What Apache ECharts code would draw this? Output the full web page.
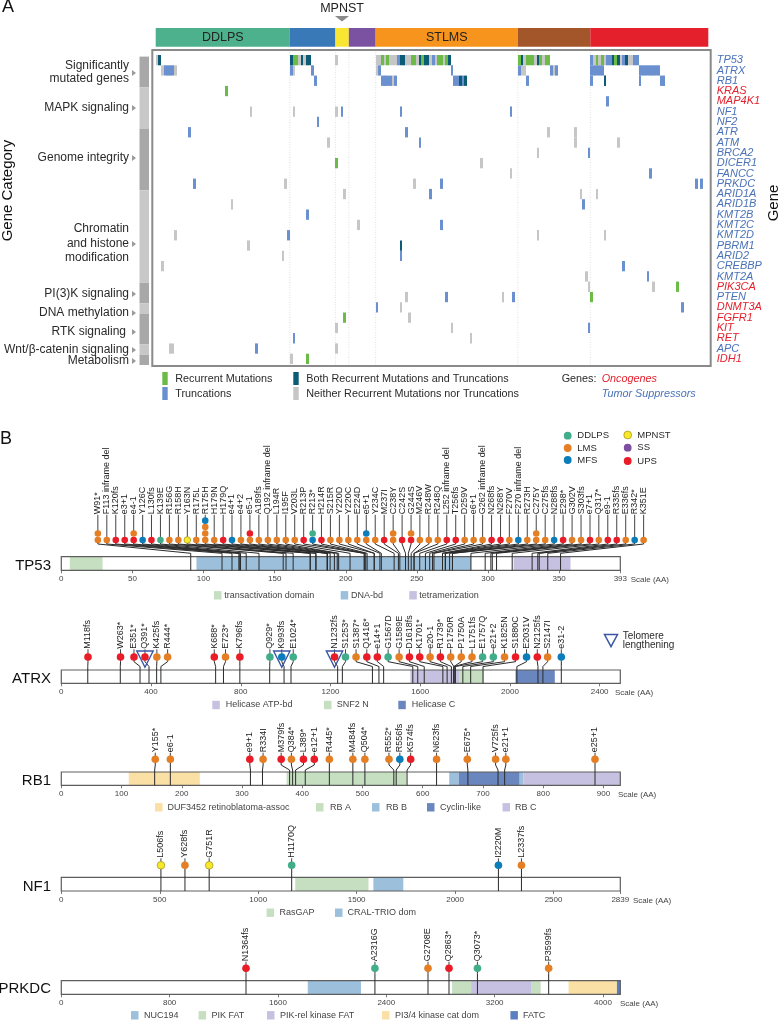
<!DOCTYPE html>
<html><head><meta charset="utf-8">
<style>html,body{margin:0;padding:0;background:#fff}#c{width:779px;height:1020px}</style>
<script src="https://cdn.jsdelivr.net/npm/echarts@6/dist/echarts.min.js"></script>
</head><body><div id="c"></div>
<script>
const FONT='"Liberation Sans", Arial, sans-serif';
// ---------- Panel A data ----------
const genes=['TP53','ATRX','RB1','KRAS','MAP4K1','NF1','NF2','ATR','ATM','BRCA2','DICER1','FANCC','PRKDC','ARID1A','ARID1B','KMT2B','KMT2C','KMT2D','PBRM1','ARID2','CREBBP','KMT2A','PIK3CA','PTEN','DNMT3A','FGFR1','KIT','RET','APC','IDH1'];
const oncogenes=['KRAS','MAP4K1','PIK3CA','DNMT3A','FGFR1','KIT','RET','IDH1'];
const histNames=['DDLPS','MFS','MPNST','SS','STLMS','ULMS','UPS'];
const histSizes=[50,17,5,10,53,27,44];
const histColors=['#4cb18c','#3a79b8','#f8e632','#7b52a1','#f7941d','#a3562a','#e4202c'];
const histLabels=['DDLPS','','','','STLMS','',''];
const categoryRows=[[0,3],[3,7],[7,13],[13,22],[22,24],[24,25],[25,28],[28,29],[29,30]];
const recurrentCells=[['TP53',[51,52,84,86,95,96,99,105,106,108,135,138,139,140,143,145,146,164,166,171]],['KRAS',[26]],['DICER1',[67]],['PIK3CA',[194]],['PTEN',[162]],['FGFR1',[70]],['IDH1',[56]]];
const bothCells=[['TP53',[1,50,54,56,57,91,92,98,100,101,109,136,142,170,172,175]],['RB1',[113,115,167]],['PBRM1',[91]]];
const truncCells=[['TP53',[90,103,162,168,169,174,178,179]],['ATRX',[3,4,5,6,50,58,83,110,135,147,149,162,163,164,165,166,180,181,182,183,184,185,186,187]],['RB1',[59,84,85,86,87,89,111,112,114,138,162,180,188,189]],['MAP4K1',[168]],['NF1',[69,91,132]],['NF2',[60]],['ATR',[12,93]],['ATM',[98]],['BRCA2',[161]],['FANCC',[184]],['PRKDC',[14,106,201,203]],['ARID1A',[102]],['ARID1B',[159]],['KMT2B',[56]],['KMT2C',[106]],['KMT2D',[49]],['ARID2',[91]],['CREBBP',[174]],['KMT2A',[183]],['PTEN',[108,133]],['DNMT3A',[82,196]],['KIT',[161]],['RET',[51]],['APC',[37]]];
const neitherCells=[['TP53',[0,53,55,67,82,83,85,87,88,89,93,94,97,102,104,107,137,141,144,163,165,167,173,176,177]],['ATRX',[2,7,51,82,136,137,148]],['RB1',[88]],['NF1',[35,51,67]],['ATR',[146,156]],['ATM',[64,156,172]],['BRCA2',[142]],['DICER1',[121]],['FANCC',[132]],['PRKDC',[48,96]],['ARID1A',[70,158,164]],['ARID1B',[28]],['KMT2C',[75]],['KMT2D',[7,142,167]],['PBRM1',[34]],['ARID2',[47]],['CREBBP',[2]],['KMT2A',[160]],['PIK3CA',[161,185]],['PTEN',[93,129]],['DNMT3A',[91]],['FGFR1',[94]],['KIT',[67,110]],['RET',[117]],['APC',[5,6,67]],['IDH1',[50]]];
// ---------- Panel B data ----------
const codeColor={G:'#41ad8b',L:'#e57f25',M:'#0c7dbb',Y:'#f8e82c',S:'#7d4fa0',U:'#ea1c27'};
const TP53_labels=['W91*','F113 inframe del','K120fs','e3+1','e4-1','Y126C','L130fs','K139E','R156G','R158H','Y163N','R175L','R175H','H179N','H179Q','e4+1','e4+2','e5-1','A189fs','Q192 inframe del','L194R','I195F','V203L','R213P','R213*','H214R','S215R','Y220D','Y220C','E224D','e5+1','Y234C','M237I','C238Y','C242S','G244S','M246V','R248W','R248Q','L252 inframe del','T256fs','D259V','e6+1','G262 inframe del','N268fs','N268Y','F270V','F270 inframe del','R273H','C275Y','C275fs','N288fs','E298*','G302V','S303fs','e7+1','Q317*','e9-1','R335fs','E336fs','R342*','K351E'];
const TP53_pos=[91,113,120,125,125,126,130,139,156,158,163,175,175,179,179,187,187,187,189,192,194,195,203,213,213,214,215,220,220,224,225,234,237,238,242,244,246,248,248,252,256,259,261,262,268,268,270,270,273,275,275,288,298,302,303,306,317,331,335,336,342,351];
const TP53_head=[25.7,32,38.3,44.6,50.9,57.2,63.4,69.7,76,82.3,88.6,94.9,101.2,107.5,113.8,120,126.3,132.6,138.9,145.2,151.5,157.8,164.1,170.4,176.7,182.9,189.2,195.5,201.8,208.1,214.4,220.7,227,233.3,239.6,245.9,252.1,258.4,264.7,271,277.3,283.6,289.9,296.2,302.5,308.8,315,321.3,327.6,333.9,340.2,346.5,352.8,359.1,365.4,371.7,377.9,384.2,390.5,396.8,403.1,409.4];
const TP53_stacks=['LL','L','U','U','UL','M','U','G','L','L','Y','L','LLLM','L','U','M','L','LU','L','L','L','L','L','U','MG','U','L','L','L','L','LM','L','U','LL','U','UL','L','L','L','U','U','L','L','L','U','U','L','M','L','LL','L','M','U','L','L','U','L','U','U','L','M','L'];
const TP53_ticks=[0,50,100,150,200,250,300,350,393];
const TP53_domains=[['transactivation domain',6,29,'#c6dfc1'],['DNA-bd',95,288,'#9cc0dc'],['tetramerization',318,358,'#c6c1e0']];
const ATRX_labels=['M118fs','W263*','E351*','Q391*','K425fs','R444*','K688*','E723*','K796fs','Q929*','K993fs','E1024*','N1232fs','S1253*','S1387*','Q1416*','e14+1','G1567D','G1589E','D1618fs','K1701*','e20-1','R1739*','P1750R','P1750A','L1751fs','E1757Q','e21+2','K1825N','S1880C','E2031V','N2125fs','S2147I','e31-2'];
const ATRX_pos=[118,263,351,391,425,444,688,723,796,929,993,1024,1232,1253,1387,1416,1437,1567,1589,1618,1701,1720,1739,1750,1750,1751,1757,1790,1825,1880,2031,2125,2147,2229];
const ATRX_head=[119,264,324,373,426,474,682,732,796,930,983,1034,1218,1267,1314,1362,1409,1457,1506,1552,1598,1644,1690,1736,1783,1831,1878,1926,1976,2025,2074,2122,2168,2229];
const ATRX_stacks=['U','U','U','U','L','L','U','L','U','G','M','G','U','G','L','U','U','G','L','U','U','L','U','L','L','L','G','G','L','U','M','U','L','M'];
const ATRX_ticks=[0,400,800,1200,1600,2000,2400];
const ATRX_domains=[['Helicase ATP-bd',1556,1773,'#c6c1e0'],['SNF2 N',1773,1883,'#c6dfc1'],['Helicase C',2025,2200,'#6a86bf']];
const ATRX_telomere=['Q391*','K993fs','N1232fs'];
const RB1_labels=['Y155*','e6-1','e9+1','R334I','M379fs','Q384*','L389*','e12+1','R445*','M484fs','Q504*','R552*','R556fs','K574fs','N623fs','E675*','V725fs','e21+1','e25+1'];
const RB1_pos=[155,181,314,334,379,384,389,405,445,484,504,552,556,574,623,675,725,736,886];
const RB1_head=[156,181,313,335,365,382,402,420,445,484,504,544,562,580,623,674,721,738,886];
const RB1_stacks=['L','L','U','L','U','L','U','U','L','L','L','L','M','U','L','L','L','L','L'];
const RB1_ticks=[0,100,200,300,400,500,600,700,800,900];
const RB1_domains=[['DUF3452 retinoblatoma-assoc',112,230,'#fbe0a5'],['RB A',374,573,'#c6dfc1'],['RB B',644,660,'#9cc0dc'],['Cyclin-like',660,761,'#6a86bf'],['RB B',761,767,'#9cc0dc'],['RB C',767,928,'#c6c1e0']];
const NF1_labels=['L506fs','Y628fs','G751R','H1170Q','I2220M','L2337fs'];
const NF1_pos=[506,628,751,1170,2220,2337];
const NF1_head=[506,628,751,1170,2220,2337];
const NF1_stacks=['Y','L','Y','G','M','L'];
const NF1_ticks=[0,500,1000,1500,2000,2500,2839];
const NF1_domains=[['RasGAP',1188,1560,'#c6dfc1'],['CRAL-TRIO dom',1585,1737,'#9cc0dc']];
const PRKDC_labels=['N1364fs','A2316G','G2708E','Q2863*','Q3073*','P3599fs'];
const PRKDC_pos=[1364,2316,2708,2863,3073,3599];
const PRKDC_head=[1364,2316,2708,2863,3073,3599];
const PRKDC_stacks=['U','G','L','U','G','L'];
const PRKDC_ticks=[0,800,1600,2400,3200,4000];
const PRKDC_domains=[['NUC194',1820,2213,'#9cc0dc'],['PIK FAT',2886,3026,'#c6dfc1'],['PIK-rel kinase FAT',3026,3474,'#c6c1e0'],['PIK FAT',3474,3540,'#c6dfc1'],['PI3/4 kinase cat dom',3746,4103,'#fbe0a5'],['FATC',4103,4128,'#5a7fc0']];

// ---------- layout helpers ----------
const grids=[],xAxes=[],yAxes=[],series=[],gfx=[];
const hiddenX=(min,max,g)=>({type:'value',min,max,show:false,gridIndex:g});
const hiddenY=(min,max,g,inv)=>({type:'value',min,max,show:false,gridIndex:g,inverse:!!inv});
function txt(x,y,text,o){o=o||{};
  const al=o.align||'left';
  gfx.push({type:'text',x,y,rotation:o.rot||0,silent:true,z:50,style:{text,fill:o.color||'#222',
    font:(o.italic?'italic ':'')+(o.size||11)+'px '+FONT,align:al,textAlign:al,verticalAlign:'middle',textVerticalAlign:'middle'}});
}
function rectG(x,y,w,h,fill,stroke,lw){gfx.push({type:'rect',silent:true,z:40,shape:{x,y,width:w,height:h},style:{fill:fill||'transparent',stroke:stroke||null,lineWidth:lw||0}});}
function triG(points,fill,stroke,lw){gfx.push({type:'polygon',silent:true,z:40,shape:{points},style:{fill:fill||'transparent',stroke:stroke||null,lineWidth:lw||0}});}

// ---------- Panel A: oncoprint ----------
grids.push({left:155.7,top:55,width:552.6,height:309});
xAxes.push(hiddenX(0,206,0));
yAxes.push({type:'category',data:genes,inverse:true,position:'right',gridIndex:0,
  axisLine:{show:false},axisTick:{show:false},splitLine:{show:false},
  axisLabel:{interval:0,margin:8.4,padding:[2,0,0,0],fontSize:11,fontStyle:'italic',fontFamily:FONT,
    color:v=>oncogenes.includes(v)?'#e4212d':'#4a72b8'}});
const boundaries=[];let acc=0;histSizes.slice(0,-1).forEach(s=>{acc+=s;boundaries.push(acc);});
series.push({type:'custom',xAxisIndex:0,yAxisIndex:0,silent:true,z:1,data:boundaries.map(b=>[b,0]),encode:{x:0},
  renderItem:(p,api)=>{const x=api.coord([api.value(0),0])[0];const c=p.coordSys;
    return {type:'line',shape:{x1:x,y1:c.y-3,x2:x,y2:c.y+c.height+1},style:{stroke:'#d4d4d4',lineWidth:.7,lineDash:[1,1.5]}};}});
function cellSeries(cells,color){
  const data=[];cells.forEach(([g,list])=>list.forEach(s=>data.push([s,genes.indexOf(g)])));
  series.push({type:'custom',xAxisIndex:0,yAxisIndex:0,silent:true,z:2,data,encode:{x:0,y:1},
    renderItem:(p,api)=>{const a=api.coord([api.value(0),api.value(1)]),b=api.coord([api.value(0)+1,api.value(1)]);const h=api.size([0,1])[1];
      const x0=Math.round(a[0]),x1=Math.round(b[0]);
      return {type:'rect',shape:{x:x0,y:a[1]-h/2,width:x1-x0,height:h},style:{fill:color}};}});
}
cellSeries(neitherCells,'#c6c6c6');
cellSeries(truncCells,'#6a90d0');
cellSeries(recurrentCells,'#6cbb47');
cellSeries(bothCells,'#0d5c75');
// colour bar
grids.push({left:155.7,top:28,width:552.6,height:18.7});
xAxes.push(hiddenX(0,206,1));yAxes.push(hiddenY(0,1,1));
let st=0;const histData=histSizes.map((s,i)=>{const r=[st,st+s,i];st+=s;return r;});
series.push({type:'custom',xAxisIndex:1,yAxisIndex:1,silent:true,data:histData,encode:{x:[0,1]},
  renderItem:(p,api)=>{const a=api.coord([api.value(0),1]),b=api.coord([api.value(1),0]);const i=api.value(2);
    const kids=[{type:'rect',shape:{x:a[0],y:a[1],width:b[0]-a[0],height:b[1]-a[1]},style:{fill:histColors[i]}}];
    if(histLabels[i])kids.push({type:'text',x:(a[0]+b[0])/2,y:(a[1]+b[1])/2,style:{text:histLabels[i],fill:'#222',font:'12.5px '+FONT,align:'center',textAlign:'center',verticalAlign:'middle',textVerticalAlign:'middle'}});
    return {type:'group',children:kids};}});
// category band
grids.push({left:139.5,top:56.6,width:9.5,height:308.4});
xAxes.push(hiddenX(0,1,2));yAxes.push(hiddenY(0,30,2,true));
series.push({type:'custom',xAxisIndex:2,yAxisIndex:2,silent:true,data:categoryRows.map((r,i)=>[0,r[0],r[1],i]),encode:{y:[1,2]},
  renderItem:(p,api)=>{const a=api.coord([0,api.value(1)]),b=api.coord([1,api.value(2)]);
    return {type:'rect',shape:{x:a[0],y:a[1],width:b[0]-a[0],height:b[1]-a[1]},style:{fill:api.value(3)%2?'#c8c8c8':'#a8a8a8'}};}});
rectG(152.3,50,558.4,316,null,'#8a8a8a',2);
txt(342,9,'MPNST',{align:'center',size:12.5});
triG([[335,16],[349,16],[342,21.5]],'#8a8a8a');
txt(2,7,'A',{size:18,color:'#111'});
txt(0,439,'B',{size:18,color:'#111'});
txt(8,190.5,'Gene Category',{size:15,rot:Math.PI/2,align:'center',color:'#111'});
txt(774,203,'Gene',{size:15,rot:Math.PI/2,align:'center',color:'#111'});
[[66,'Significantly'],[79,'mutated genes'],[107.7,'MAPK signaling'],[158,'Genome integrity'],[229,'Chromatin'],[244,'and histone'],[258,'modification'],[294,'PI(3)K signaling'],[313,'DNA methylation'],[349.7,'Wnt/β-catenin signaling'],[360.7,'Metabolism']]
 .forEach(([y,t])=>txt(129,y,t,{align:'right',size:12,color:'#2a2a2a'}));
txt(126,332,'RTK signaling',{align:'right',size:12,color:'#2a2a2a'});
[73,108,158,244,294,313,332,350,361].forEach(y=>triG([[132,y-3],[136,y],[132,y+3]],'#9a9a9a'));
[[162.3,372,'#6cbb47','Recurrent Mutations'],[162.3,387,'#6a90d0','Truncations'],[293.3,372,'#0d5c75','Both Recurrent Mutations and Truncations'],[293.3,387,'#c6c6c6','Neither Recurrent Mutations nor Truncations']]
 .forEach(([x,y,c,t])=>{rectG(x,y,5.4,13,c);txt(x+13,y+7,t,{size:10.8,color:'#2a2a2a'});});
txt(561.7,379,'Genes:',{size:10.8,color:'#2a2a2a'});
txt(601.7,379,'Oncogenes',{size:10.8,italic:true,color:'#e4212d'});
txt(601.7,394,'Tumor Suppressors',{size:10.8,italic:true,color:'#4a72b8'});

// ---------- Panel B: lollipops ----------
function panel(cfg){
  const g=grids.length;
  grids.push({left:61.3,top:cfg.barTop,width:559,height:cfg.barBottom-cfg.barTop});
  xAxes.push({type:'value',gridIndex:g,min:0,max:cfg.len,position:'bottom',
    axisLine:{show:false},splitLine:{show:false},
    axisTick:{show:true,length:3,customValues:cfg.ticks,lineStyle:{color:'#555',width:.8}},
    axisLabel:{show:true,customValues:cfg.ticks,formatter:v=>String(v),fontSize:8,color:'#444',margin:4.5,fontFamily:FONT,showMinLabel:true,showMaxLabel:true}});
  yAxes.push(hiddenY(0,1,g));
  const dom=[[0,cfg.len,'#ffffff']].concat(cfg.domains.map(d=>[d[1],d[2],d[3]]));
  series.push({type:'custom',xAxisIndex:g,yAxisIndex:g,silent:true,z:1,data:dom.map(d=>[d[0],d[1],0]),encode:{x:[0,1]},
    renderItem:(p,api)=>{const i=p.dataIndex;const a=api.coord([api.value(0),1]),b=api.coord([api.value(1),0]);
      return {type:'rect',shape:{x:a[0],y:a[1],width:b[0]-a[0],height:b[1]-a[1]},style:{fill:dom[i][2]}};}});
  series.push({type:'custom',xAxisIndex:g,yAxisIndex:g,silent:true,z:2,data:[[0,cfg.len,0]],encode:{x:[0,1]},
    renderItem:(p,api)=>{const a=api.coord([api.value(0),1]),b=api.coord([api.value(1),0]);
      return {type:'rect',shape:{x:a[0],y:a[1],width:b[0]-a[0],height:b[1]-a[1]},style:{fill:'transparent',stroke:'#5e5e5e',lineWidth:1.2}};}});
  series.push({type:'custom',xAxisIndex:g,yAxisIndex:g,silent:true,z:3,
    data:cfg.labels.map((l,i)=>[cfg.head[i],cfg.pos[i],i]),encode:{x:[0,1]},
    renderItem:(p,api)=>{
      const i=api.value(2),hx=api.coord([api.value(0),0])[0],px=api.coord([api.value(1),0])[0];
      const stack=cfg.stacks[i],top=cfg.headY-(stack.length-1)*cfg.stackStep;
      const kids=[];
      kids.push({type:'polyline',shape:{points:[[hx,cfg.headY],[hx,cfg.bendTop],[px,cfg.bendBottom],[px,cfg.barBottom]]},style:{fill:null,stroke:'#2a2a2a',lineWidth:1}});
      kids.push({type:'line',shape:{x1:hx,y1:top,x2:hx,y2:cfg.labelBottom},style:{stroke:'#444',lineWidth:1}});
      if(cfg.telomere&&cfg.telomere.includes(cfg.labels[i]))
        kids.push({type:'polygon',shape:{points:[[hx-8.2,cfg.headY-6],[hx+8.2,cfg.headY-6],[hx,cfg.headY+10.3]]},style:{fill:'transparent',stroke:'#3a55a5',lineWidth:1.4}});
      stack.split('').forEach((c,k)=>kids.push({type:'circle',shape:{cx:hx,cy:cfg.headY-k*cfg.stackStep,r:cfg.r},
        style:{fill:codeColor[c],stroke:c==='Y'?'#a99a1c':null,lineWidth:c==='Y'?.8:0}}));
      kids.push({type:'text',x:hx,y:cfg.labelBottom-.5,rotation:Math.PI/2,style:{text:cfg.labels[i],fill:'#222',font:'9px '+FONT,align:'left',textAlign:'left',verticalAlign:'middle',textVerticalAlign:'middle'}});
      return {type:'group',children:kids};
    }});
  txt(51,cfg.nameY,cfg.name,{align:'right',size:15,color:'#111'});
  txt(cfg.scaleX,cfg.barBottom+9.3,'Scale (AA)',{size:8,color:'#444'});
  cfg.legend.forEach(([x,tx,c,t])=>{rectG(x,cfg.legendY-4.2,7.5,8.4,c);txt(tx,cfg.legendY,t,{size:9,color:'#444'});});
}
panel({name:'TP53',nameY:565.7,len:393,ticks:TP53_ticks,domains:TP53_domains,labels:TP53_labels,pos:TP53_pos,head:TP53_head,stacks:TP53_stacks,
  barTop:556.7,barBottom:570.3,headY:540,stackStep:6.45,r:3.3,bendTop:544,bendBottom:553.3,labelBottom:514.8,scaleX:630.7,legendY:595.3,
  legend:[[214,224.3,TP53_domains[0][3],TP53_domains[0][0]],[340.7,351,TP53_domains[1][3],TP53_domains[1][0]],[409.3,419.3,TP53_domains[2][3],TP53_domains[2][0]]]});
panel({name:'ATRX',nameY:679,len:2492,ticks:ATRX_ticks,domains:ATRX_domains,labels:ATRX_labels,pos:ATRX_pos,head:ATRX_head,stacks:ATRX_stacks,telomere:ATRX_telomere,
  barTop:670,barBottom:683.3,headY:657,stackStep:6.4,r:3.8,bendTop:661.7,bendBottom:666.5,labelBottom:649.3,scaleX:615,legendY:705,
  legend:[[212.3,225.7,ATRX_domains[0][3],ATRX_domains[0][0]],[324,336.7,ATRX_domains[1][3],ATRX_domains[1][0]],[398.3,411.7,ATRX_domains[2][3],ATRX_domains[2][0]]]});
panel({name:'RB1',nameY:780.7,len:928,ticks:RB1_ticks,domains:RB1_domains,labels:RB1_labels,pos:RB1_pos,head:RB1_head,stacks:RB1_stacks,
  barTop:772,barBottom:785.3,headY:759.3,stackStep:6.4,r:3.8,bendTop:765,bendBottom:770,labelBottom:752.7,scaleX:618,legendY:807.3,
  legend:[[155,167.5,'#fbe0a5','DUF3452 retinoblatoma-assoc'],[316,330,'#c6dfc1','RB A'],[372,386,'#9cc0dc','RB B'],[427,440,'#6a86bf','Cyclin-like'],[502.5,515,'#c6c1e0','RB C']]});
panel({name:'NF1',nameY:886.7,len:2839,ticks:NF1_ticks,domains:NF1_domains,labels:NF1_labels,pos:NF1_pos,head:NF1_head,stacks:NF1_stacks,
  barTop:877.3,barBottom:891,headY:865.3,stackStep:6.4,r:3.8,bendTop:870,bendBottom:875,labelBottom:858.3,scaleX:633,legendY:912.7,
  legend:[[266.6,279.5,'#c6dfc1','RasGAP'],[335,347.6,'#9cc0dc','CRAL-TRIO dom']]});
panel({name:'PRKDC',nameY:989.3,len:4128,ticks:PRKDC_ticks,domains:PRKDC_domains,labels:PRKDC_labels,pos:PRKDC_pos,head:PRKDC_head,stacks:PRKDC_stacks,
  barTop:980.7,barBottom:994.3,headY:968.3,stackStep:6.4,r:3.8,bendTop:973.5,bendBottom:978,labelBottom:961.7,scaleX:620,legendY:1015.3,
  legend:[[131,144,'#9cc0dc','NUC194'],[198.6,211.5,'#c6dfc1','PIK FAT'],[267,280,'#c6c1e0','PIK-rel kinase FAT'],[382,395,'#fbe0a5','PI3/4 kinase cat dom'],[510.4,523,'#5a7fc0','FATC']]});
// histology legend
const histLegend=[[567.7,435.7,'G','DDLPS'],[567.7,448,'L','LMS'],[567.7,460,'M','MFS'],[627.7,435,'Y','MPNST'],[627.7,447.7,'S','SS'],[627.7,461,'U','UPS']];
histLegend.forEach(([x,y,c,t])=>{
  gfx.push({type:'circle',silent:true,z:40,shape:{cx:x,cy:y,r:3.9},style:{fill:codeColor[c],stroke:c==='Y'?'#a99a1c':null,lineWidth:c==='Y'?.8:0}});
  txt(x+9.6,y,t,{size:9.5,color:'#2a2a2a'});});
triG([[604.5,634.5],[617.5,634.5],[611,646.7]],'transparent','#3a55a5',1.5);
txt(622.7,636.5,'Telomere',{size:10,color:'#2a2a2a'});
txt(622.7,645.5,'lengthening',{size:10,color:'#2a2a2a'});

const chart=echarts.init(document.getElementById('c'),null,{renderer:'canvas'});
chart.setOption({animation:false,backgroundColor:'#fff',textStyle:{fontFamily:FONT},grid:grids,xAxis:xAxes,yAxis:yAxes,series,graphic:{elements:gfx},tooltip:{show:false}});
</script></body></html>
